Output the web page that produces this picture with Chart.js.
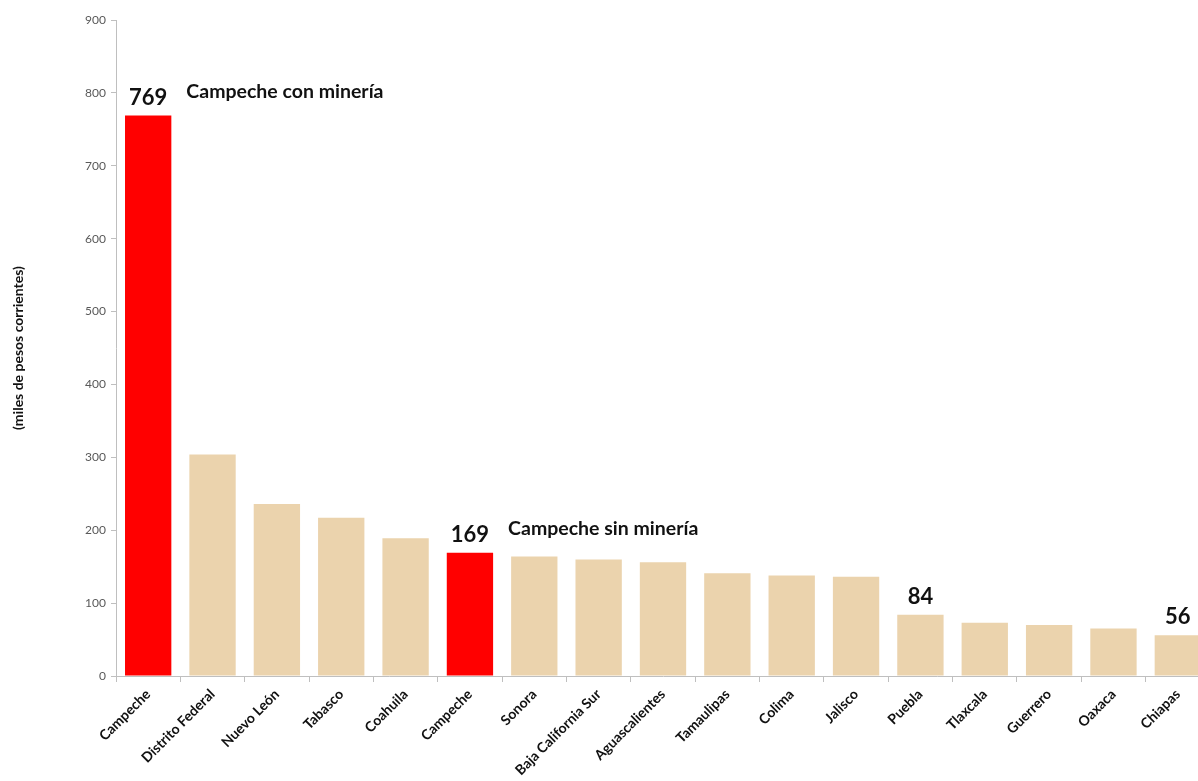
<!DOCTYPE html>
<html>
<head>
<meta charset="utf-8">
<script src="https://cdn.jsdelivr.net/npm/chart.js@4"></script>
<style>
html,body{margin:0;padding:0;background:#fff;overflow:hidden;}
#wrap{width:1212px;height:781px;position:relative;}
</style>
</head>
<body>
<div id="wrap"><canvas id="c"></canvas></div>
<script>
const categories = ["Campeche","Distrito Federal","Nuevo León","Tabasco","Coahuila","Campeche","Sonora","Baja California Sur","Aguascalientes","Tamaulipas","Colima","Jalisco","Puebla","Tlaxcala","Guerrero","Oaxaca","Chiapas"];
const values = [769,304,236,217,189,169,164,160,156,141,138,136,84,73,70,65,56];
const highlighted = [true,false,false,false,false,true,false,false,false,false,false,false,false,false,false,false,false];
const valueLabels = ["769","","","","","169","","","","","","","84","","","","56"];
const noteLabels = ["Campeche con minería","","","","","Campeche sin minería","","","","","","","","","","",""];
const yTicks = [0,100,200,300,400,500,600,700,800,900];
const yTitle = "(miles de pesos corrientes)";

const RED = "#FF0000", TAN = "#EBD3AD";

const labelPlugin = {
  id: "labelPlugin",
  afterDatasetsDraw(chart) {
    const ctx = chart.ctx;
    const meta = chart.getDatasetMeta(0);
    ctx.save();
    ctx.fillStyle = "#111";
    meta.data.forEach((bar, i) => {
      const vl = valueLabels[i];
      if (vl) {
        ctx.font = "bold 22px Lato, 'Open Sans', sans-serif";
        ctx.textAlign = "center";
        ctx.textBaseline = "bottom";
        ctx.fillText(vl, bar.x, bar.y - 7);
      }
      const nl = noteLabels[i];
      if (nl) {
        ctx.font = "bold 19.5px Lato, 'Open Sans', sans-serif";
        ctx.textAlign = "left";
        ctx.textBaseline = "bottom";
        ctx.fillText(nl, bar.x + bar.width / 2 + 15, bar.y - 14);
      }
    });
    ctx.restore();
  }
};

new Chart(document.getElementById("c"), {
  type: "bar",
  data: {
    labels: categories,
    datasets: [{
      data: values,
      backgroundColor: highlighted.map(h => h ? RED : TAN),
      borderWidth: 0,
      barPercentage: 1,
      categoryPercentage: 0.72
    }]
  },
  options: {
    responsive: true,
    maintainAspectRatio: false,
    animation: false,
    layout: { padding: { top: 20, right: 2, left: 0, bottom: 0 } },
    plugins: { legend: { display: false }, tooltip: { enabled: false } },
    scales: {
      y: {
        min: 0, max: 900,
        afterBuildTicks(s) { s.ticks = yTicks.map(v => ({ value: v })); },
        afterFit(s) { s.width = 116; },
        border: { display: true, color: "#bfbfbf", width: 1 },
        grid: { drawOnChartArea: false, drawTicks: true, tickLength: 5, color: "#bfbfbf" },
        ticks: { color: "#595959", font: { family: "Lato, 'Open Sans', sans-serif", size: 12 }, padding: 5 },
        title: { display: true, text: yTitle, color: "#111", font: { family: "Lato, 'Open Sans', sans-serif", size: 14, weight: "bold" }, padding: { top: 10, bottom: 40 } }
      },
      x: {
        afterFit(s) { s.height = 105; },
        border: { display: true, color: "#bfbfbf", width: 1 },
        grid: { drawOnChartArea: false, drawTicks: true, tickLength: 6, color: "#bfbfbf", offset: true },
        ticks: { color: "#111", maxRotation: 45, minRotation: 45, autoSkip: false, padding: 4, font: { family: "Lato, 'Open Sans', sans-serif", size: 14, weight: "bold" } }
      }
    }
  },
  plugins: [labelPlugin]
});
</script>
</body>
</html>
